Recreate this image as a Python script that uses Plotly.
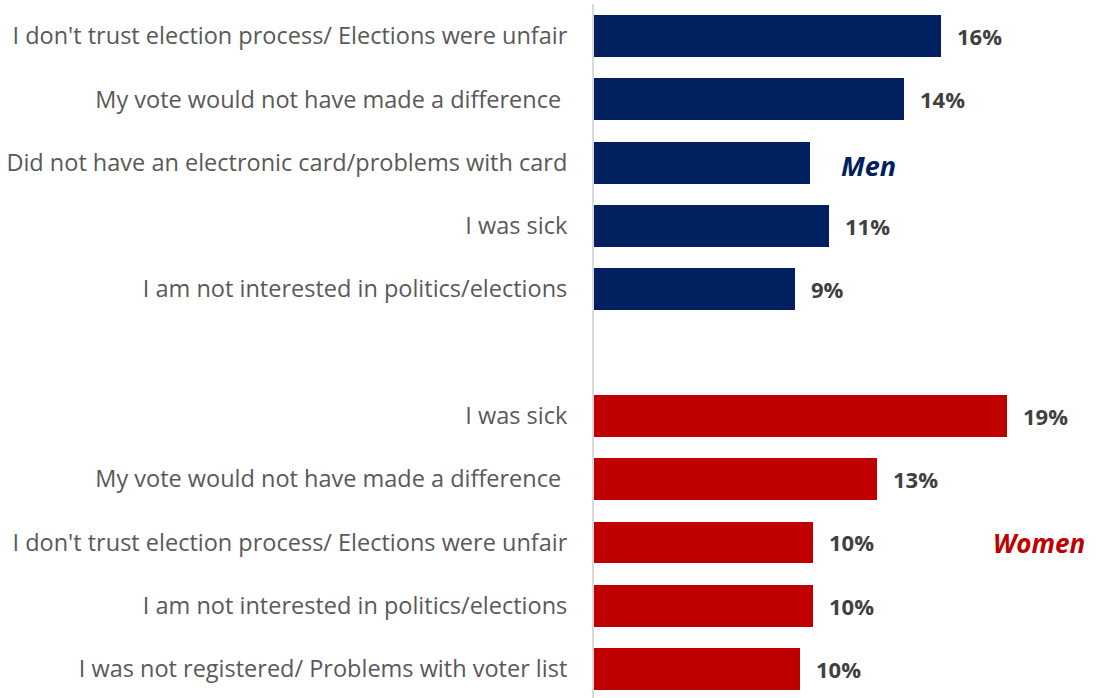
import plotly.graph_objects as go

# Reasons for not voting, by gender (share of respondents, %)
men_reasons = [
    "I don't trust election process/ Elections were unfair",
    "My vote would not have made a difference\u00a0",
    "Did not have an electronic card/problems with card",
    "I was sick",
    "I am not interested in politics/elections",
]
men_values = [15.9, 14.2, 9.9, 10.8, 9.2]
men_labels = ["16%", "14%", "", "11%", "9%"]

women_reasons = [
    "I was sick",
    "My vote would not have made a difference\u00a0",
    "I don't trust election process/ Elections were unfair",
    "I am not interested in politics/elections",
    "I was not registered/ Problems with voter list",
]
women_values = [18.95, 13.0, 10.05, 10.05, 9.45]
women_labels = ["19%", "13%", "10%", "10%", "10%"]

MEN_COLOR = "#002060"
WOMEN_COLOR = "#C00000"
VALUE_COLOR = "#404040"
TICK_COLOR = "#595959"
FONT = "Open Sans"

# rows: men 0-4, empty spacer row 5, women 6-10
men_pos = list(range(len(men_reasons)))
women_pos = [p + len(men_reasons) + 1 for p in range(len(women_reasons))]

fig = go.Figure()
fig.add_trace(go.Bar(
    x=men_values, y=men_pos, orientation="h",
    marker=dict(color=MEN_COLOR, line=dict(width=0)),
    width=0.66, hoverinfo="skip", showlegend=False,
))
fig.add_trace(go.Bar(
    x=women_values, y=women_pos, orientation="h",
    marker=dict(color=WOMEN_COLOR, line=dict(width=0)),
    width=0.66, hoverinfo="skip", showlegend=False,
))

annotations = []
for vals, pos, labs in ((men_values, men_pos, men_labels),
                        (women_values, women_pos, women_labels)):
    for v, p, lab in zip(vals, pos, labs):
        if not lab:
            continue
        annotations.append(dict(
            x=v, y=p, xref="x", yref="y", text=f"<b>{lab}</b>",
            showarrow=False, xanchor="left", yanchor="middle", xshift=14,
            font=dict(family=FONT, size=22, color=VALUE_COLOR),
        ))

annotations.append(dict(
    x=11.25, y=2, xref="x", yref="y", text="<b><i>Men</i></b>",
    showarrow=False, xanchor="left", yanchor="middle", yshift=-3,
    font=dict(family=FONT, size=27, color=MEN_COLOR),
))
annotations.append(dict(
    x=18.2, y=8, xref="x", yref="y", text="<b><i>Women</i></b>",
    showarrow=False, xanchor="left", yanchor="middle", yshift=-1,
    font=dict(family=FONT, size=26, color=WOMEN_COLOR),
))

fig.update_layout(
    width=1097, height=698,
    margin=dict(l=594, r=0, t=4, b=0),
    paper_bgcolor="white", plot_bgcolor="white",
    bargap=0,
    annotations=annotations,
    xaxis=dict(range=[0, 23.07], visible=False, fixedrange=True),
    yaxis=dict(
        range=[10.458, -0.506],
        tickmode="array",
        tickvals=men_pos + women_pos,
        ticktext=men_reasons + women_reasons,
        tickfont=dict(family=FONT, size=23.5, color=TICK_COLOR),
        ticklabelstandoff=20,
        ticks="",
        showgrid=False, zeroline=False,
        showline=True, linecolor="#D9D9D9", linewidth=2,
        fixedrange=True,
    ),
)

fig.write_html("out.html")
